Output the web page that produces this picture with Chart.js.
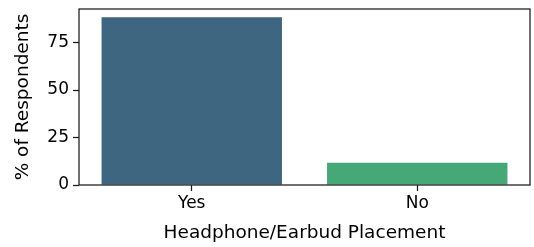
<!DOCTYPE html>
<html>
<head>
<meta charset="utf-8">
<script src="https://cdn.jsdelivr.net/npm/chart.js@4"></script>
<style>
  html, body { margin: 0; padding: 0; background: #fff; }
  #wrap { width: 534px; height: 247px; }
</style>
</head>
<body>
<div id="wrap"><canvas id="bars"></canvas></div>
<script>
var categories = ["Yes", "No"];
var percentValues = [88.3, 11.7];
var barColors = ["#3e6680", "#45a876"];
var yTicks = [0, 25, 50, 75];

// box around the plot, like matplotlib spines
var frame = {
    id: "frame",
    afterDatasetsDraw: function (chart) {
        var a = chart.chartArea;
        var c = chart.ctx;
        c.save();
        c.strokeStyle = "#1a1a1a";
        c.lineWidth = 1.25;
        c.strokeRect(a.left, a.top, a.right - a.left, a.bottom - a.top);
        c.restore();
    }
};

Chart.defaults.font.family = "'DejaVu Sans', sans-serif";
Chart.defaults.color = "#000";

var ctx = document.getElementById("bars").getContext("2d");
var myChart = new Chart(ctx, {
    type: "bar",
    data: {
        labels: categories,
        datasets: [
            {
                label: "% of Respondents",
                data: percentValues,
                backgroundColor: barColors,
                borderWidth: 0,
                barPercentage: 0.8,
                categoryPercentage: 1.0,
            },
        ],
    },
    options: {
        responsive: true,
        maintainAspectRatio: false,
        animation: false,
        layout: { padding: { top: 9, right: 4, left: 0, bottom: 3 } },
        plugins: {
            legend: { display: false },
            tooltip: { enabled: false },
        },
        scales: {
            x: {
                grid: {
                    display: true,
                    drawOnChartArea: false,
                    offset: false,
                    tickLength: 6,
                    color: "#1a1a1a",
                    tickWidth: 1.25,
                },
                border: { display: false },
                ticks: { font: { size: 17 }, padding: 2 },
                title: {
                    display: true,
                    text: "Headphone/Earbud Placement",
                    font: { size: 18.5 },
                    padding: { top: 0, bottom: 0 },
                },
                afterFit: function (axis) {
                    axis.height = 59;
                    axis.paddingLeft = 0;
                    axis.paddingRight = 0;
                },
            },
            y: {
                min: 0,
                max: 92.7,
                afterBuildTicks: function (axis) {
                    axis.ticks = yTicks.map(function (v) { return { value: v }; });
                },
                grid: {
                    display: true,
                    drawOnChartArea: false,
                    tickLength: 6,
                    color: "#1a1a1a",
                    tickWidth: 1.25,
                },
                border: { display: false },
                ticks: { font: { size: 17 }, padding: 4 },
                title: {
                    display: true,
                    text: "% of Respondents",
                    font: { size: 18.5 },
                    padding: { top: 12, bottom: 0 },
                },
                afterFit: function (axis) {
                    axis.width = 79;
                    axis.paddingTop = 0;
                    axis.paddingBottom = 0;
                },
            },
        },
    },
    plugins: [frame],
});
</script>
</body>
</html>
